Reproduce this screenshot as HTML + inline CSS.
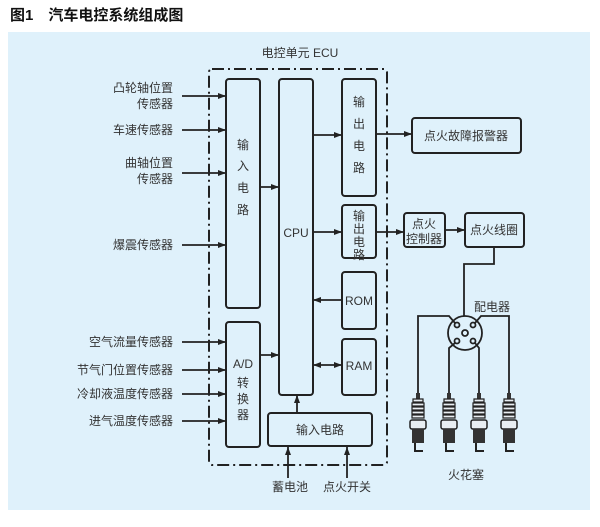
<!DOCTYPE html>
<html><head><meta charset="utf-8"><style>
html,body{margin:0;padding:0;background:#fff;}
svg text{font-family:"Liberation Sans","Noto Sans CJK SC",sans-serif;fill:#333;}
</style></head><body>
<svg width="600" height="522" viewBox="0 0 600 522" xmlns="http://www.w3.org/2000/svg">
<defs>
<marker id="a" markerWidth="8" markerHeight="6" refX="8" refY="3" orient="auto" markerUnits="userSpaceOnUse"><path d="M0,0 L8,3 L0,6 Z" fill="#222"/></marker>
<marker id="as" markerWidth="8" markerHeight="6" refX="0" refY="3" orient="auto" markerUnits="userSpaceOnUse"><path d="M8,0 L0,3 L8,6 Z" fill="#222"/></marker>
<g id="plug">
<rect x="-2" y="0" width="4" height="6" fill="#333"/>
<path d="M-5,6 h10 v3 h-10z M-6,10 h12 v3 h-12z M-6,14 h12 v3 h-12z M-6,18 h12 v3 h-12z M-6,22 h12 v3 h-12z" fill="#e8eef2" stroke="#222" stroke-width="1.2"/>
<rect x="-8" y="27" width="16" height="9" rx="2" fill="#e8eef2" stroke="#222" stroke-width="1.5"/>
<rect x="-6" y="36" width="12" height="14" fill="#333"/>
<path d="M-3,50 v8 h8" fill="none" stroke="#222" stroke-width="2"/>
</g>
</defs>
<text x="10" y="20" font-size="15" font-weight="bold" style="fill:#111">图1　汽车电控系统组成图</text>
<rect x="8" y="32" width="582" height="478" fill="#dff1fb"/>
<text x="300" y="57" font-size="12" text-anchor="middle">电控单元 ECU</text>
<rect x="209" y="69" width="178" height="396" rx="3" fill="none" stroke="#222" stroke-width="2" stroke-dasharray="12,4,2,4"/>
<g fill="none" stroke="#222" stroke-width="2">
<rect x="226" y="79" width="34" height="229" rx="3"/>
<rect x="279" y="79" width="34" height="316" rx="3"/>
<rect x="342" y="79" width="34" height="117" rx="3"/>
<rect x="342" y="205" width="34" height="53" rx="3"/>
<rect x="342" y="272" width="34" height="57" rx="3"/>
<rect x="342" y="339" width="34" height="56" rx="3"/>
<rect x="226" y="322" width="34" height="125" rx="3"/>
<rect x="268" y="413" width="104" height="33" rx="3"/>
<rect x="412" y="118" width="109" height="35" rx="3"/>
<rect x="404" y="213" width="41" height="34" rx="3"/>
<rect x="465" y="213" width="59" height="34" rx="3"/>
</g>
<g stroke="#222" stroke-width="1.8" fill="none" marker-end="url(#a)">
<line x1="182" y1="96" x2="226" y2="96"/>
<line x1="182" y1="130" x2="226" y2="130"/>
<line x1="182" y1="173" x2="226" y2="173"/>
<line x1="182" y1="245" x2="226" y2="245"/>
<line x1="182" y1="342" x2="226" y2="342"/>
<line x1="182" y1="370" x2="226" y2="370"/>
<line x1="182" y1="394" x2="226" y2="394"/>
<line x1="182" y1="421" x2="226" y2="421"/>
<line x1="260" y1="187" x2="279" y2="187"/>
<line x1="260" y1="355" x2="279" y2="355"/>
<line x1="313" y1="135" x2="342" y2="135"/>
<line x1="313" y1="232" x2="342" y2="232"/>
<line x1="342" y1="300" x2="313" y2="300"/>
<line x1="313" y1="365" x2="342" y2="365" marker-start="url(#as)"/>
<line x1="297" y1="413" x2="297" y2="395"/>
<line x1="288" y1="478" x2="288" y2="447"/>
<line x1="347" y1="478" x2="347" y2="447"/>
<line x1="376" y1="134" x2="412" y2="134"/>
<line x1="376" y1="232" x2="404" y2="232"/>
<line x1="445" y1="230" x2="465" y2="230"/>
</g>
<g stroke="#222" stroke-width="1.8" fill="none">
<path d="M494,247 V264 H464 V322"/>
<circle cx="465" cy="333" r="17" fill="#dff1fb"/>
<circle cx="465" cy="333" r="3"/>
<circle cx="457" cy="325" r="2.5"/><circle cx="473" cy="325" r="2.5"/>
<circle cx="457" cy="341" r="2.5"/><circle cx="473" cy="341" r="2.5"/>
<path d="M455,323 L449,316 H418 V393"/>
<path d="M475,323 L481,316 H509 V393"/>
<path d="M455,343 L449,348 V393"/>
<path d="M475,343 L479,348 V393"/>
</g>
<use href="#plug" x="418" y="393"/>
<use href="#plug" x="449" y="393"/>
<use href="#plug" x="479" y="393"/>
<use href="#plug" x="509" y="393"/>
<g font-size="12" text-anchor="end">
<text x="173" y="92">凸轮轴位置</text><text x="173" y="108">传感器</text>
<text x="173" y="134">车速传感器</text>
<text x="173" y="167">曲轴位置</text><text x="173" y="183">传感器</text>
<text x="173" y="249">爆震传感器</text>
<text x="173" y="346">空气流量传感器</text>
<text x="173" y="374">节气门位置传感器</text>
<text x="173" y="398">冷却液温度传感器</text>
<text x="173" y="425">进气温度传感器</text>
</g>
<g font-size="12" text-anchor="middle">
<text x="243" y="149">输</text><text x="243" y="170">入</text><text x="243" y="192">电</text><text x="243" y="214">路</text>
<text x="296" y="237">CPU</text>
<text x="359" y="106">输</text><text x="359" y="128">出</text><text x="359" y="150">电</text><text x="359" y="172">路</text>
<text x="359" y="220">输</text><text x="359" y="233">出</text><text x="359" y="246">电</text><text x="359" y="259">路</text>
<text x="359" y="305">ROM</text>
<text x="359" y="370">RAM</text>
<text x="243" y="368">A/D</text><text x="243" y="387">转</text><text x="243" y="403">换</text><text x="243" y="419">器</text>
<text x="320" y="434">输入电路</text>
<text x="466" y="140">点火故障报警器</text>
<text x="424" y="228">点火</text><text x="424" y="243">控制器</text>
<text x="494" y="234">点火线圈</text>
<text x="492" y="311">配电器</text>
<text x="466" y="479">火花塞</text>
<text x="290" y="491">蓄电池</text>
<text x="347" y="491">点火开关</text>
</g>
</svg>
</body></html>
